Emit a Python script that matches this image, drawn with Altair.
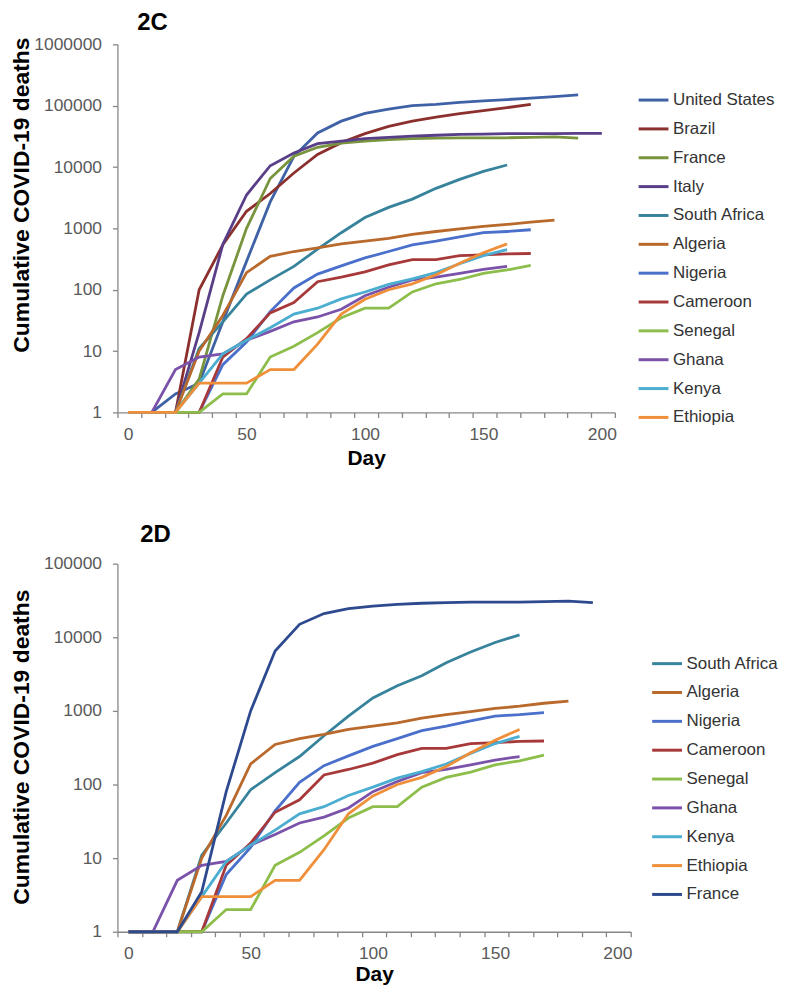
import altair as alt
import pandas as pd

days = list(range(0, 210, 10))

# cumulative deaths, one value every 10 days from day 0
united_states = [1, 1, 2, 3, 30, 290, 2700, 15000, 36000, 56000, 75000, 88000, 100000, 105000, 113000, 120000, 126000, 133000, 141000, 150000]
brazil = [1, 1, 1, 100, 540, 1900, 3700, 8000, 16000, 25000, 35000, 46000, 56000, 65000, 74000, 83000, 93000, 105000]
france = [1, 1, 1, 3.5, 80, 1000, 6500, 15000, 21000, 24500, 26500, 28000, 29000, 29500, 30000, 30000, 30000, 30500, 31000, 29500]
italy = [1, 1, 1, 20, 550, 3500, 10500, 17000, 24000, 26500, 29000, 30500, 32000, 33000, 34000, 34500, 35000, 35000, 35000, 35500, 35500]
south_africa = [1, 1, 1, 11, 30, 85, 145, 240, 460, 850, 1500, 2200, 3000, 4500, 6300, 8500, 10800]
algeria = [1, 1, 1, 10, 38, 190, 350, 420, 480, 560, 620, 690, 800, 890, 980, 1080, 1160, 1270, 1360]
nigeria = [1, 1, 1, 1, 6, 14, 44, 107, 180, 245, 330, 420, 540, 620, 730, 850, 890, 950]
cameroon = [1, 1, 1, 1, 8, 16, 42, 62, 135, 160, 195, 255, 310, 310, 360, 370, 385, 390]
senegal = [1, 1, 1, 1, 2, 2, 8, 12, 20, 35, 50, 50, 92, 125, 147, 185, 210, 250]
ghana = [1, 1, 5, 8, 9, 15, 21, 30, 36, 48, 80, 110, 145, 160, 185, 215, 240]
kenya = [1, 1, 1, 3, 9, 15, 24, 40, 50, 71, 92, 122, 150, 190, 265, 360, 450]
ethiopia = [1, 1, 1, 3, 3, 3, 5, 5, 13, 40, 70, 100, 125, 175, 270, 400, 560]

series = {
    "United States": united_states, "Brazil": brazil, "France": france, "Italy": italy,
    "South Africa": south_africa, "Algeria": algeria, "Nigeria": nigeria, "Cameroon": cameroon,
    "Senegal": senegal, "Ghana": ghana, "Kenya": kenya, "Ethiopia": ethiopia,
}

order_c = ["United States", "Brazil", "France", "Italy", "South Africa", "Algeria",
           "Nigeria", "Cameroon", "Senegal", "Ghana", "Kenya", "Ethiopia"]
colors_c = ["#3F62A6", "#8C302E", "#78943D", "#593E88", "#37839C", "#B8692B",
            "#4A70CB", "#A8393B", "#8DBE4B", "#7A52AA", "#4BADD0", "#EF8F3A"]
order_d = ["South Africa", "Algeria", "Nigeria", "Cameroon", "Senegal", "Ghana",
           "Kenya", "Ethiopia", "France"]
colors_d = ["#37839C", "#B8692B", "#4A70CB", "#A8393B", "#8DBE4B", "#7A52AA",
            "#4BADD0", "#EF8F3A", "#2E4A8F"]

x_ticks = [-4.5 + 10 * k for k in range(22)]
x_labels = [0, 50, 100, 150, 200]

FONT = "Liberation Sans, Arial, sans-serif"
AXIS_GREY = "#878787"


def long_table(names):
    rows = []
    for name in names:
        for d, v in zip(days, series[name]):
            rows.append({"country": name, "day": d, "deaths": v})
    return pd.DataFrame(rows)


def panel(names, colors, title, title_dx, title_offset, ydomain, width, height,
          ytitle_x, ytitle_y, xtitle_y, legend_x, legend_y):
    yvals = [10 ** k for k in range(0, len(str(ydomain[1])))]
    return alt.Chart(long_table(names)).mark_line(strokeWidth=2.8).encode(
        x=alt.X("day:Q",
                scale=alt.Scale(domain=[-4.5, 205.5], nice=False, zero=False),
                axis=alt.Axis(values=x_ticks + x_labels, title="Day",
                              labelExpr="datum.value % 50 === 0 ? datum.label : ''",
                              tickOpacity={"condition": {"test": "datum.value % 50 === 0", "value": 0}, "value": 1},
                              labelOverlap=False, labelBound=False, labelFlush=False,
                              labelPadding=8, titleY=xtitle_y, titleBaseline="middle")),
        y=alt.Y("deaths:Q",
                scale=alt.Scale(type="log", domain=ydomain, nice=False),
                axis=alt.Axis(values=yvals, format="d", title="Cumulative COVID-19 deaths",
                              labelPadding=11, titleX=ytitle_x, titleY=ytitle_y,
                              titleAngle=270, titleAlign="center", titleBaseline="alphabetic")),
        color=alt.Color("country:N", sort=names,
                        scale=alt.Scale(domain=names, range=colors),
                        legend=alt.Legend(title=None, orient="none", legendX=legend_x, legendY=legend_y,
                                          direction="vertical", symbolType="stroke", symbolSize=900,
                                          symbolStrokeWidth=3, labelFontSize=17, labelFont=FONT,
                                          labelColor="#333333", rowPadding=4.0, labelOffset=3,
                                          padding=0, offset=0)),
    ).properties(
        width=width, height=height,
        title=alt.TitleParams(title, anchor="start", frame="group", dx=title_dx,
                              fontSize=24, fontWeight="bold", font=FONT, color="black",
                              offset=title_offset),
    )


chart_c = panel(order_c, colors_c, "2C", 20, 0.5, [1, 1000000], 500, 370, -89.6, 151, 46, 522.4, 39.5)
chart_d = panel(order_d, colors_d, "2D", 23, 7.5, [1, 100000], 516, 370, -89.6, 184, 43, 536, 84)

chart = alt.vconcat(chart_c, chart_d, spacing=55).resolve_scale(
    color="independent", x="independent", y="independent"
).properties(
    padding={"left": 2, "top": 0, "right": 0, "bottom": 0}
).configure_view(stroke=None).configure_axis(
    grid=False, domainColor=AXIS_GREY, tickColor=AXIS_GREY, domainWidth=1.3, tickWidth=1.3,
    tickSize=5, labelFont=FONT, labelFontSize=17.5, labelColor="#595959",
    titleFont=FONT, titleFontSize=23, titleFontWeight="bold", titleColor="black",
).configure_axisX(titleFontSize=21)

chart.save("out.html", embed_options={"renderer": "svg", "actions": False})
